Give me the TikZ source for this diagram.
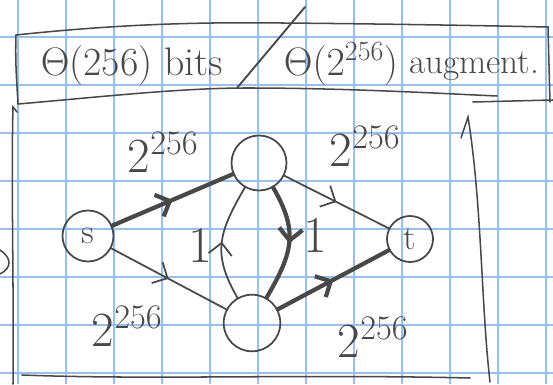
\documentclass[tikz,border=0pt]{standalone}
\usepackage{fix-cm}
\usepackage{tikz}
\usetikzlibrary{arrows.meta,decorations.markings}

\definecolor{pencil}{RGB}{72,72,72}
\definecolor{gridblue}{RGB}{150,192,242}

\begin{document}
\begin{tikzpicture}[
            x=0.03cm, y=0.03cm,
            vertex/.style={draw=pencil, circle, line width=1.5pt, minimum size=#1, inner sep=0pt, text=pencil, font=\fontsize{30}{30}\selectfont},
            vertex/.default=1.6cm,
            lbl/.style={text=pencil, inner sep=0pt, font=\fontsize{42}{42}\selectfont},
            ttl/.style={text=pencil, inner sep=0pt, font=\fontsize{34}{34}\selectfont},
            edge/.style={draw=pencil, line width=1.5pt, line cap=round, postaction={decorate}, decoration={markings, mark=at position 0.5 with {\arrow{Straight Barb[length=10pt, width=20pt]}}}},
            heavy/.style={edge, line width=3.6pt},
            frame/.style={draw=pencil, line width=1.3pt, line cap=round},
            gridline/.style={draw=gridblue, line width=0.9pt}
        ]
            \useasboundingbox (0,0) rectangle (553,384);
            \foreach \k in {0,...,11}
                \draw[gridline] (18+48*\k,0) -- (18+48*\k,384);
            \foreach \k in {0,...,7}
                \draw[gridline] (0,11+48*\k) -- (553,11+48*\k);

            \draw[frame] (16,349) .. controls (120,360) and (200,362) .. (282,361) .. controls (400,360) and (500,358) .. (548,357) -- (550,282);
            \draw[frame] (16,349) .. controls (15,320) and (17,300) .. (18,280);
            \draw[frame] (18,280) .. controls (100,287) and (180,296) .. (247,296) .. controls (350,296) and (450,290) .. (497,288);
            \draw[frame] (473,282) -- (553,284);
            \draw[frame, line width=1.6pt] (305,377) -- (237,296);

            \node[ttl] (bits) at (132,318) {$\Theta$(256) bits};
            \node[ttl] (theta) at (341,320) {$\Theta(2^{256})$};
            \node[ttl, font=\fontsize{30}{30}\selectfont] (aug) at (474,318) {augment.};

            \draw[frame] (17,272) -- (13,277) .. controls (11,200) and (14,100) .. (13,0);
            \draw[frame] (22,9) .. controls (150,4) and (300,10) .. (470,6);
            \draw[frame] (461,246) -- (468,267) .. controls (482,180) and (481,80) .. (490,2);
            \draw[frame] (0,134) .. controls (12,126) and (12,116) .. (0,110);

            \node[vertex=1.53cm] (s) at (88,148) {s};
            \node[vertex=1.65cm] (v) at (259,221) {};
            \node[vertex=1.7cm] (w) at (252,61) {};
            \node[vertex=1.38cm] (t) at (410,145) {t};

            \draw[heavy] (s) -- (v);
            \draw[edge] (s) -- (w);
            \draw[edge] (v) -- (t);
            \draw[heavy] (w) -- (t);
            \draw[heavy] (v.-60) to[out=-60, in=60, looseness=1.2] (w.60);
            \draw[edge] (w.120) to[out=120, in=-120, looseness=1.2] (v.-120);

            \node[lbl] (lsv) at (163,232) {$2^{256}$};
            \node[lbl] (lsw) at (127,58) {$2^{256}$};
            \node[lbl] (lvt) at (365,238) {$2^{256}$};
            \node[lbl] (lwt) at (373,47) {$2^{256}$};
            \node[lbl, font=\fontsize{44}{44}\selectfont] (lwv) at (200,139) {1};
            \node[lbl, font=\fontsize{44}{44}\selectfont] (lvw) at (315,149) {1};
        \end{tikzpicture}
\end{document}
